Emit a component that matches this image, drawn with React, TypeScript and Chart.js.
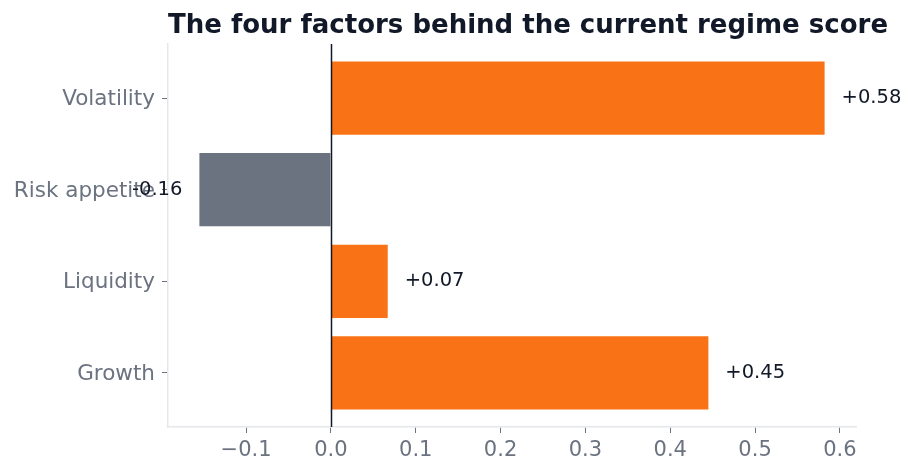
import React, { useEffect, useRef } from "react";
import { Chart, registerables } from "chart.js";

Chart.register(...registerables);

// Categories listed top to bottom
const categories = ["Volatility", "Risk appetite", "Liquidity", "Growth"];
const values = [0.582, -0.155, 0.067, 0.445];
const valueLabels = ["+0.58", "-0.16", "+0.07", "+0.45"];
const xTicks = [-0.1, 0.0, 0.1, 0.2, 0.3, 0.4, 0.5, 0.6];
const titleText = "The four factors behind the current regime score";

const ORANGE = "#f97316";
const GRAY = "#6b7280";
const DARK = "#111827";
const SPINE = "#e5e7eb";
const FONT = "'DejaVu Sans', sans-serif";

export default function App() {
  const ref = useRef<HTMLCanvasElement | null>(null);

  useEffect(() => {
    const canvas = ref.current;
    if (!canvas) return;
    const n = categories.length;
    // index 0 at bottom
    const points = categories.map((c, i) => ({ x: values[i], y: n - 1 - i }));
    const colors = values.map((v) => (v >= 0 ? ORANGE : GRAY));

    const titlePlugin = {
      id: "leftTitle",
      afterDraw(chart: any) {
        const { ctx, chartArea } = chart;
        ctx.save();
        ctx.font = `bold 26px ${FONT}`;
        ctx.fillStyle = DARK;
        ctx.textAlign = "left";
        ctx.textBaseline = "alphabetic";
        ctx.fillText(titleText, chartArea.left, 33);
        ctx.restore();
      },
    };

    const zeroLinePlugin = {
      id: "zeroLine",
      afterDatasetsDraw(chart: any) {
        const { ctx, chartArea, scales } = chart;
        const x = Math.round(scales.x.getPixelForValue(0)) + 0.5;
        ctx.save();
        ctx.strokeStyle = DARK;
        ctx.lineWidth = 1.5;
        ctx.beginPath();
        ctx.moveTo(x, chartArea.top);
        ctx.lineTo(x, chartArea.bottom);
        ctx.stroke();
        ctx.restore();
      },
    };

    const labelPlugin = {
      id: "valueLabels",
      afterDatasetsDraw(chart: any) {
        const { ctx } = chart;
        const meta = chart.getDatasetMeta(0);
        ctx.save();
        ctx.font = `19.5px ${FONT}`;
        ctx.fillStyle = DARK;
        ctx.textBaseline = "middle";
        meta.data.forEach((bar: any, i: number) => {
          const v = values[i];
          const off = chart.scales.x.getPixelForValue(0.02) - chart.scales.x.getPixelForValue(0);
          if (v >= 0) {
            ctx.textAlign = "left";
            ctx.fillText(valueLabels[i], bar.x + off, bar.y);
          } else {
            ctx.textAlign = "right";
            ctx.fillText(valueLabels[i], bar.x - off, bar.y);
          }
        });
        ctx.restore();
      },
    };

    const chart = new Chart(canvas, {
      type: "bar",
      data: {
        datasets: [
          {
            data: points as any,
            backgroundColor: colors,
            borderWidth: 0,
            barPercentage: 0.8,
            categoryPercentage: 1,
          },
        ],
      },
      options: {
        indexAxis: "y",
        animation: false,
        responsive: false,
        maintainAspectRatio: false,
        layout: { padding: { left: 0, top: 44, right: 59, bottom: 0 } },
        plugins: {
          legend: { display: false },
          title: { display: false },
          tooltip: { enabled: false },
        },
        scales: {
          x: {
            type: "linear",
            min: -0.192,
            max: 0.619,
            afterBuildTicks(scale: any) {
              scale.ticks = xTicks.map((v) => ({ value: v }));
            },
            afterFit(scale: any) {
              scale.height = 46;
            },
            ticks: {
              color: GRAY,
              font: { family: FONT, size: 21 },
              padding: 5,
              maxRotation: 0,
              autoSkip: false,
              callback: (v: any) => {
                const s = Number(v).toFixed(1);
                return s.startsWith("-") ? "\u2212" + s.slice(1) : s;
              },
            },
            grid: {
              drawOnChartArea: false,
              drawTicks: true,
              tickLength: 6,
              tickColor: GRAY,
              color: GRAY,
            },
            border: { display: true, color: SPINE, width: 1.5 },
          },
          y: {
            type: "linear",
            offset: false,
            min: -0.59,
            max: n - 1 + 0.59,
            afterBuildTicks(scale: any) {
              scale.ticks = categories.map((_, i) => ({ value: i }));
            },
            afterFit(scale: any) {
              scale.width = 168;
            },
            ticks: {
              color: GRAY,
              font: { family: FONT, size: 21.5 },
              padding: 7,
              labelOffset: 1.5,
              autoSkip: false,
              callback: (v: any) => categories[n - 1 - Number(v)],
            },
            grid: {
              offset: false,
              drawOnChartArea: false,
              drawTicks: true,
              tickLength: 6,
              tickColor: GRAY,
              color: GRAY,
            },
            border: { display: true, color: SPINE, width: 1.5 },
          },
        },
      },
      plugins: [titlePlugin, zeroLinePlugin, labelPlugin],
    });
    return () => chart.destroy();
  }, []);

  return (
    <div style={{ position: "fixed", left: 0, top: 0, width: 915, height: 473, background: "#fff" }}>
      <canvas ref={ref} width={915} height={473} style={{ display: "block", width: 915, height: 473 }} />
    </div>
  );
}
